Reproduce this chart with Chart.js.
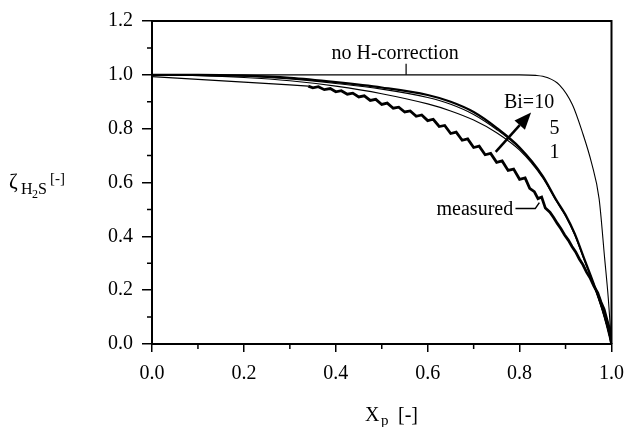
<!DOCTYPE html>
<html>
<head>
<meta charset="utf-8">
<script src="https://cdn.jsdelivr.net/npm/chart.js@4/dist/chart.umd.min.js"></script>
<style>
  body{margin:0;background:#fff;}
  canvas{display:block;}
</style>
</head>
<body>
<canvas id="chart" width="634" height="427"></canvas>
<script>
// x ticks / y ticks
const xTicks = [0.0, 0.2, 0.4, 0.6, 0.8, 1.0];
const yTicks = [0.0, 0.2, 0.4, 0.6, 0.8, 1.0, 1.2];

// no H-correction
const noHX = [0, 0.3, 0.6, 0.8, 0.835, 0.86, 0.887, 0.915, 0.936, 0.957, 0.973, 0.985, 0.993, 1.0];
const noHY = [1.0, 1.0, 1.0, 1.0, 0.998, 0.99, 0.962, 0.889, 0.79, 0.67, 0.54, 0.32, 0.17, 0.0];

// model curves, Bi = 10, 5, 1
const biX   = [0, 0.1, 0.2, 0.3, 0.4, 0.5, 0.6, 0.65, 0.7, 0.75, 0.8, 0.85, 0.88, 0.9, 0.92, 0.94, 0.96, 0.98, 0.99, 1.0];
const bi10Y = [1.0, 1.0, 0.997, 0.989, 0.973, 0.953, 0.925, 0.9, 0.862, 0.803, 0.73, 0.625, 0.535, 0.48, 0.41, 0.32, 0.23, 0.13, 0.07, 0.0];
const bi5Y  = [1.0, 0.999, 0.995, 0.985, 0.968, 0.947, 0.916, 0.891, 0.853, 0.797, 0.726, 0.622, 0.533, 0.478, 0.408, 0.318, 0.228, 0.128, 0.068, 0.0];
const bi1Y  = [1.0, 0.997, 0.99, 0.978, 0.958, 0.93, 0.892, 0.866, 0.832, 0.785, 0.72, 0.618, 0.53, 0.475, 0.405, 0.315, 0.226, 0.126, 0.067, 0.0];

// measured
const measX = [0, 0.1, 0.2, 0.3, 0.34, 0.35, 0.362, 0.375, 0.388, 0.4, 0.412, 0.425, 0.437, 0.45, 0.462, 0.475, 0.487,
  0.5, 0.512, 0.525, 0.537, 0.55, 0.562, 0.575, 0.587, 0.6, 0.612, 0.625, 0.637, 0.65, 0.662, 0.675, 0.687,
  0.7, 0.712, 0.725, 0.737, 0.75, 0.762, 0.775, 0.787, 0.8, 0.812, 0.822, 0.832, 0.84, 0.848, 0.856, 0.866,
  0.874, 0.882, 0.89, 0.898, 0.906, 0.914, 0.922, 0.93, 0.938, 0.946, 0.954, 0.962, 0.97, 0.977, 0.984, 0.99, 0.995, 1.0];
const measY = [0.993, 0.983, 0.973, 0.963, 0.958, 0.952, 0.956, 0.945, 0.949, 0.937, 0.941, 0.928, 0.932, 0.918, 0.922, 0.905, 0.909,
  0.89, 0.895, 0.876, 0.88, 0.862, 0.866, 0.846, 0.851, 0.83, 0.835, 0.808, 0.812, 0.782, 0.787, 0.757, 0.762,
  0.73, 0.735, 0.703, 0.708, 0.675, 0.68, 0.645, 0.65, 0.612, 0.617, 0.578, 0.566, 0.54, 0.546, 0.505, 0.49,
  0.47, 0.448, 0.428, 0.405, 0.386, 0.362, 0.342, 0.316, 0.294, 0.266, 0.244, 0.214, 0.19, 0.156, 0.128, 0.09, 0.06, 0.0];

const serif = "'Liberation Serif', 'DejaVu Serif', serif";

function pts(xs, ys){
    return xs.map((x,i)=>({x:x, y:ys[i]}));
}

const lineBase = {showLine:true, pointRadius:0, borderColor:"#000", fill:false};

const extras = {
    id:"extras",
    beforeDraw(chart){
        const c = chart.ctx;
        c.save();
        c.fillStyle = "#fff";
        c.fillRect(0,0,chart.width,chart.height);
        c.restore();
    },
    afterDatasetsDraw(chart){
        const c = chart.ctx;
        const a = chart.chartArea;
        const sx = chart.scales.x, sy = chart.scales.y;
        const px = v => sx.getPixelForValue(v);
        const py = v => sy.getPixelForValue(v);
        c.save();
        c.strokeStyle = "#000";
        c.fillStyle = "#000";

        // frame top + right
        c.lineWidth = 2;
        c.beginPath();
        c.moveTo(a.left, a.top);
        c.lineTo(a.right, a.top);
        c.lineTo(a.right, a.bottom);
        c.stroke();

        // minor ticks
        c.lineWidth = 1.5;
        c.beginPath();
        for(let v=0.1; v<1.2; v+=0.2){
            c.moveTo(a.left-5, py(v)); c.lineTo(a.left, py(v));
        }
        for(let v=0.1; v<1.0; v+=0.2){
            c.moveTo(px(v), a.bottom); c.lineTo(px(v), a.bottom+5);
        }
        c.stroke();

        // labels
        c.font = "20px " + serif;
        c.textBaseline = "alphabetic";
        c.textAlign = "center";
        c.fillText("no H-correction", px(0.529), py(1.06));
        c.lineWidth = 1.2;
        c.beginPath();
        c.moveTo(px(0.553), py(1.041)); c.lineTo(px(0.553), py(1.0));
        c.stroke();

        c.textAlign = "left";
        c.fillText("Bi=10", px(0.766), py(0.877));
        c.fillText("5", px(0.865), py(0.78));
        c.fillText("1", px(0.865), py(0.69));

        c.textAlign = "right";
        c.fillText("measured", px(0.786), py(0.481));
        c.lineWidth = 1.5;
        c.beginPath();
        c.moveTo(px(0.791), py(0.503));
        c.lineTo(px(0.834), py(0.503));
        c.lineTo(px(0.843), py(0.525));
        c.stroke();

        // arrow
        const x0 = px(0.748), y0 = py(0.714), x1 = px(0.825), y1 = py(0.86);
        const ang = Math.atan2(y1-y0, x1-x0);
        const hl = 17, hw = 7;
        const bx = x1 - hl*Math.cos(ang), by = y1 - hl*Math.sin(ang);
        c.lineWidth = 2.5;
        c.beginPath();
        c.moveTo(x0,y0); c.lineTo(bx,by);
        c.stroke();
        c.beginPath();
        c.moveTo(x1,y1);
        c.lineTo(bx + hw*Math.sin(ang), by - hw*Math.cos(ang));
        c.lineTo(bx - hw*Math.sin(ang), by + hw*Math.cos(ang));
        c.closePath();
        c.fill();

        // y title  zeta_H2S [-]
        c.textAlign = "left";
        c.font = "21px " + serif;
        c.fillText("ζ", 9, 188);
        c.font = "16px " + serif;
        c.fillText("H", 21, 194);
        c.font = "12px " + serif;
        c.fillText("2", 32, 198);
        c.font = "16px " + serif;
        c.fillText("S", 38, 194);
        c.font = "15px " + serif;
        c.fillText("[-]", 50, 183);

        // x title  X_p [-]
        c.font = "20px " + serif;
        c.fillText("X", 365, 421);
        c.font = "15px " + serif;
        c.fillText("p", 381, 425);
        c.font = "20px " + serif;
        c.fillText("[-]", 398, 421);

        c.restore();
    }
};

new Chart(document.getElementById("chart"),{
    type:"scatter",
    data:{
        datasets:[
            Object.assign({data:pts(noHX,noHY), borderWidth:1.1, cubicInterpolationMode:"monotone"}, lineBase),
            Object.assign({data:pts(biX,bi1Y), borderWidth:1.1, cubicInterpolationMode:"monotone"}, lineBase),
            Object.assign({data:pts(biX,bi5Y), borderWidth:1.1, cubicInterpolationMode:"monotone"}, lineBase),
            Object.assign({data:pts(biX,bi10Y), borderWidth:2.2, cubicInterpolationMode:"monotone"}, lineBase),
            Object.assign({data:pts(measX,measY), borderWidth:2.8, tension:0,
                segment:{borderWidth: ctx => ctx.p0.parsed.x < 0.33 ? 1.2 : 2.8}}, lineBase)
        ]
    },
    options:{
        responsive:false,
        animation:false,
        layout:{padding:{left:0, top:15, right:14, bottom:0}},
        plugins:{legend:{display:false}, tooltip:{enabled:false}},
        scales:{
            x:{
                type:"linear", min:0, max:1,
                afterFit(s){ s.height = 83; },
                afterBuildTicks(s){ s.ticks = xTicks.map(v=>({value:v})); },
                ticks:{color:"#000", padding:10, font:{family:serif, size:20},
                    callback:v=>v.toFixed(1), maxRotation:0},
                grid:{drawOnChartArea:false, color:"#000", tickLength:8, lineWidth:1.5},
                border:{color:"#000", width:2}
            },
            y:{
                type:"linear", min:0, max:1.2,
                afterFit(s){ s.width = 152; },
                afterBuildTicks(s){ s.ticks = yTicks.map(v=>({value:v})); },
                ticks:{color:"#000", padding:9, font:{family:serif, size:20},
                    callback:v=>v.toFixed(1)},
                grid:{drawOnChartArea:false, color:"#000", tickLength:10, lineWidth:1.5},
                border:{color:"#000", width:2}
            }
        }
    },
    plugins:[extras]
});
</script>
</body>
</html>
